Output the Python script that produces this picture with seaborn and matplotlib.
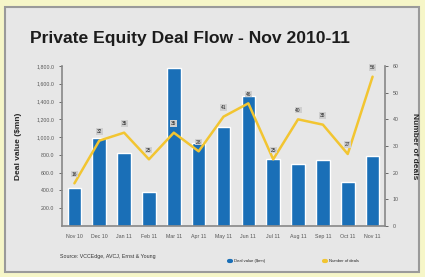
import numpy as np
import pandas as pd
import seaborn as sns
import matplotlib.pyplot as plt
from matplotlib.patches import Rectangle
from matplotlib.lines import Line2D

months = ["Nov 10", "Dec 10", "Jan 11", "Feb 11", "Mar 11", "Apr 11", "May 11",
          "Jun 11", "Jul 11", "Aug 11", "Sep 11", "Oct 11", "Nov 11"]
deal_value = [430, 990, 820, 380, 1780, 930, 1110, 1460, 750, 700, 740, 500, 790]
num_deals = [16, 32, 35, 25, 35, 28, 41, 46, 25, 40, 38, 27, 56]

df = pd.DataFrame({"month": months, "value": deal_value, "deals": num_deals})
df["pos"] = np.arange(len(df))

sns.set_style("white")
plt.rcParams['font.family'] = ['Liberation Sans', 'DejaVu Sans']

bar_color = "#1a6fb7"
line_color = "#f2c531"

fig = plt.figure(figsize=(4.25, 2.77), dpi=100)
fig.patch.set_facecolor("#f6f6c8")

# grey panel behind everything
bg = fig.add_axes([0, 0, 1, 1], zorder=-1)
bg.set_axis_off()
bg.add_patch(Rectangle((5 / 425, 5 / 277), 414 / 425, 265 / 277, transform=bg.transAxes,
                       facecolor="#e7e7e7", edgecolor="#9a9a9a", linewidth=1.5))

fig.text(30 / 425, 1 - 43 / 277, "Private Equity Deal Flow - Nov 2010-11", fontsize=12.6,
         fontweight="bold", color="#1c1c1c", va="baseline")

ax = fig.add_axes([62 / 425, 1 - 226 / 277, 323 / 425, 160 / 277])
ax.set_facecolor("none")
sns.barplot(data=df, x="month", y="value", color=bar_color, width=0.55, saturation=1, ax=ax, zorder=2)
ax.set_ylim(0, 1800)
ax.set_xlim(-0.5, len(months) - 0.5)
ax.set_yticks(np.arange(200, 1801, 200))
ax.set_yticklabels([f"{v:,.1f}" for v in np.arange(200, 1801, 200)])
ax.set_xlabel("")
ax.set_ylabel("Deal value ($mn)", fontsize=6, fontweight="bold", labelpad=10)
ax.tick_params(axis="both", labelsize=3.8, colors="#555555", length=2, width=0.6)
ax.set_xticks(np.arange(len(months)))
ax.set_xticklabels(months)
ax.tick_params(axis="x", length=0, pad=6)

ax2 = ax.twinx()
sns.lineplot(data=df, x="pos", y="deals", color=line_color, linewidth=1.8, ax=ax2, zorder=3)
ax2.set_ylim(0, 60)
ax2.set_yticks(np.arange(0, 61, 10))
ax2.set_ylabel("Number of deals", fontsize=6, fontweight="bold", rotation=270, labelpad=14)
ax2.tick_params(axis="y", labelsize=3.8, colors="#555555", length=2, width=0.6)
ax2.set_xlabel("")

for p, d in zip(df["pos"], df["deals"]):
    ax2.text(p, d + 3.5, str(d), fontsize=3.5, ha="center", va="center", color="#222222",
             bbox=dict(boxstyle="square,pad=0.15", facecolor="#cfcfcf", edgecolor="none"))

for a in (ax, ax2):
    for s in a.spines.values():
        s.set_visible(False)
ax.spines["left"].set_visible(True)
ax.spines["bottom"].set_visible(True)
ax2.spines["right"].set_visible(True)
for s in (ax.spines["left"], ax.spines["bottom"], ax2.spines["right"]):
    s.set_color("#888888")
    s.set_linewidth(1.2)

fig.text(60 / 425, 1 - 258 / 277, "Source: VCCEdge, AVCJ, Ernst & Young", fontsize=3.8, color="#333333")
handles = [Line2D([0], [0], color=bar_color, linewidth=3),
           Line2D([0], [0], color=line_color, linewidth=3)]
fig.legend(handles, ["Deal value ($mn)", "Number of deals"], loc="center left", ncol=2,
           bbox_to_anchor=(225 / 425, 1 - 261 / 277), frameon=False, fontsize=3,
           handlelength=0.5, columnspacing=14)

fig.savefig("out.png", dpi=100, facecolor=fig.get_facecolor())
